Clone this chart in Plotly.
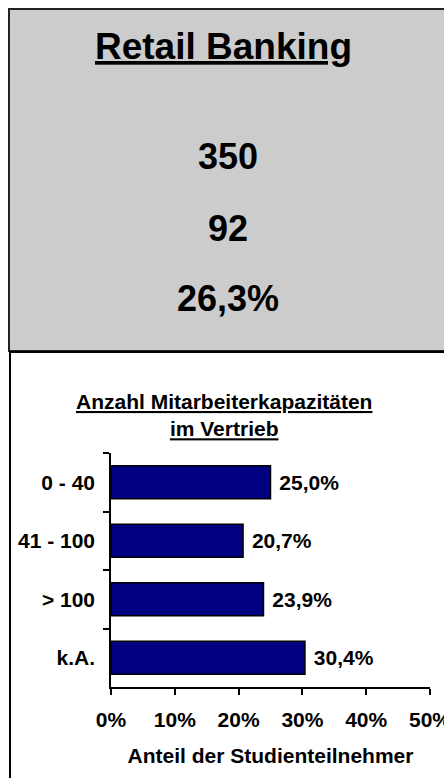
import plotly.graph_objects as go

# data
categories = ["0 - 40", "41 - 100", "> 100", "k.A."]
shares = [25.0, 20.7, 23.9, 30.4]
x_ticks = [0, 10, 20, 30, 40, 50]

header_title = "Retail Banking"
header_values = ["350", "92", "26,3%"]

W, H = 444, 778
FONT = "Liberation Sans, Arial, sans-serif"
FS = 21


def px(v):
    # pixel column -> paper x
    return v / W


def py(v):
    # pixel row -> paper y
    return 1 - v / H


fig = go.Figure(go.Bar(
    x=shares,
    y=categories,
    orientation="h",
    marker=dict(color="#000080", line=dict(color="#000000", width=1.5)),
    texttemplate=" <b>%{x:.1f}%</b>",
    textposition="outside",
    textfont=dict(family=FONT, size=FS, color="#000000"),
    cliponaxis=False,
))

fig.update_layout(
    template="none",
    width=W, height=H,
    margin=dict(l=0, r=0, t=0, b=0),
    paper_bgcolor="white",
    plot_bgcolor="rgba(0,0,0,0)",
    separators=",.",
    showlegend=False,
    bargap=0.44,
    font=dict(family=FONT, size=FS, color="#000000"),
)

fig.update_xaxes(
    domain=[px(111), px(430)],
    range=[0, 50],
    tickvals=x_ticks,
    ticktext=["<b>%d%%</b>" % v for v in x_ticks],
    showgrid=False, zeroline=False,
    showline=True, linecolor="#000000", linewidth=1.5,
    ticks="outside", ticklen=6, tickcolor="#000000", tickwidth=1.5,
    tickfont=dict(family=FONT, size=FS, color="#000000"),
    ticklabelstandoff=7,
    ticklabeloverflow="allow",
    automargin=False,
    title=dict(text="<b>Anteil der Studienteilnehmer</b>", standoff=18,
               font=dict(family=FONT, size=FS, color="#000000")),
)

fig.update_yaxes(
    domain=[py(687), py(453)],
    categoryorder="array", categoryarray=categories,
    autorange="reversed",
    showgrid=False, zeroline=False,
    showline=True, linecolor="#000000", linewidth=1.5,
    ticks="outside", ticklen=6, tickcolor="#000000", tickwidth=1.5,
    tickson="boundaries",
    tickfont=dict(family=FONT, size=FS, color="#000000", weight="bold"),
    ticklabelstandoff=10,
    automargin=False,
)

# header box and lower panel
fig.add_shape(type="rect", xref="paper", yref="paper",
              x0=px(9), x1=1.05, y0=py(351), y1=py(9),
              fillcolor="#cccccc", line=dict(color="#222222", width=2), layer="below")
fig.add_shape(type="rect", xref="paper", yref="paper",
              x0=px(10), x1=1.05, y0=-0.05, y1=py(352),
              fillcolor="white", line=dict(color="#000000", width=2), layer="below")

fig.add_annotation(x=px(224), y=py(47), xref="paper", yref="paper",
                   xanchor="center", yanchor="middle",
                   text="<b><u>" + header_title + "</u></b>", showarrow=False,
                   font=dict(family=FONT, size=37, color="#000000"))
for val, yc in zip(header_values, [157, 228, 298]):
    fig.add_annotation(x=px(228), y=py(yc), xref="paper", yref="paper",
                       xanchor="center", yanchor="middle",
                       text="<b>" + val + "</b>", showarrow=False,
                       font=dict(family=FONT, size=36, color="#000000"))

fig.add_annotation(x=px(224), y=py(415), xref="paper", yref="paper",
                   xanchor="center", yanchor="middle",
                   text="<b><u>Anzahl Mitarbeiterkapazitäten</u></b><br><b><u>im Vertrieb</u></b>",
                   showarrow=False, align="center",
                   font=dict(family=FONT, size=FS, color="#000000"))

fig.write_html("out.html",
               config={"displayModeBar": False},
               post_script="document.body.style.margin='0';"
                           "document.body.style.overflow='hidden';")
